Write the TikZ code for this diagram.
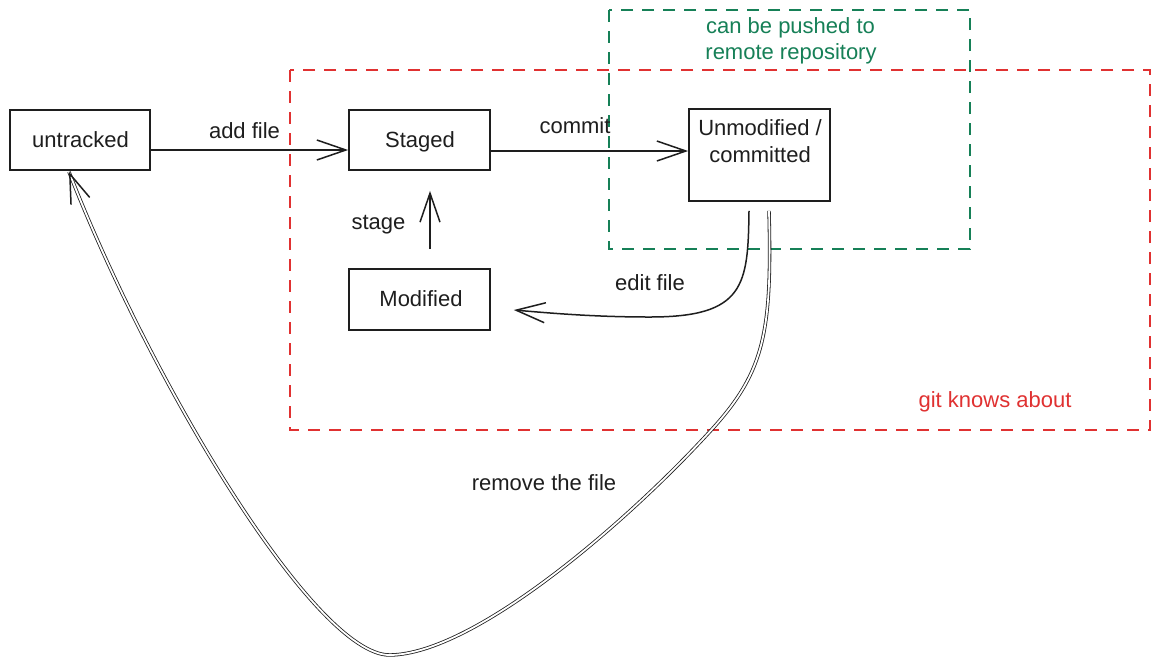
\documentclass[tikz,border=0pt]{standalone}
\usepackage{fontspec}
\setmainfont{Liberation Sans}
\usetikzlibrary{arrows.meta,calc}
\definecolor{ink}{HTML}{1E1E1E}
\definecolor{xred}{HTML}{E03131}
\definecolor{xgreen}{HTML}{168057}
\begin{document}
\begin{tikzpicture}[x=0.5pt,y=-0.5pt,
  box/.style={draw=ink, line width=0.85pt, inner sep=0pt},
  txt/.style={text=ink, font=\fontsize{11}{13.5}\selectfont, inner sep=0pt, anchor=base},
  arr/.style={draw=ink, line width=0.75pt, -{Straight Barb[length=14.5pt,width=10pt]}},
  dbl/.style={draw=ink, double=white, double distance=0.9pt, line width=0.4pt},
  zone/.style={line width=0.7pt, dash pattern=on 6pt off 4.5pt}]
\useasboundingbox (0,0) rectangle (1160,665);
\fill[white] (0,0) rectangle (1160,665);

% zones
\draw[zone, draw=xred] (290,70) rectangle (1150,430);
\draw[zone, draw=xgreen] (609,10) rectangle (970,249);
\node[txt, text=xred] (tGit) at (995,407) {git knows about};
\node[txt, text=xgreen] (tPush1) at (790.5,33) {can be pushed to};
\node[txt, text=xgreen] (tPush2) at (791,59) {remote repository};

% boxes
\node[box, minimum width=70pt, minimum height=30pt] (untracked) at (80,140) {};
\node[box, minimum width=70.5pt, minimum height=30pt] (staged) at (419.5,140) {};
\node[box, minimum width=70.5pt, minimum height=30.5pt] (modified) at (419.5,299.5) {};
\node[box, minimum width=70.5pt, minimum height=46pt] (unmod) at (759.5,155) {};

\node[txt] (tUntr) at (80.5,147.5) {untracked};
\node[txt] (tStaged) at (420,147.5) {Staged};
\node[txt] (tMod) at (421,306) {Modified};
\node[txt] (tUnmod1) at (760,135) {Unmodified /};
\node[txt] (tUnmod2) at (760,162) {committed};

% connectors
\draw[arr] ([yshift=-5pt]untracked.east) -- ([yshift=-5pt]staged.west);
\node[txt] (tAdd) at (244.5,138) {add file};

\draw[arr] ([yshift=-5.5pt]staged.east) -- ([yshift=2pt]unmod.west);
\node[txt] (tCommit) at (575,133.5) {commit};

\coordinate (stS) at ([shift={(5.25pt,9.5pt)}]modified.north);
\coordinate (stE) at ([shift={(5.25pt,-10pt)}]staged.south);
\draw[arr] (stS) -- (stE);
\node[txt] (tStage) at (378.5,229) {stage};

\coordinate (efS) at ([shift={(-5.25pt,-4.5pt)}]unmod.south);
\coordinate (efE) at ([shift={(11.5pt,-5.25pt)}]modified.east);
\draw[arr] (efS) .. controls (748,285) and (745,317) .. (650,317)
  .. controls (600,317) and (560,314) .. (efE);
\node[txt] (tEdit) at (650,290) {edit file};

\coordinate (rmS) at ([shift={(4.75pt,-4.5pt)}]unmod.south);
\coordinate (rmE) at ([shift={(-5.5pt,-0.5pt)}]untracked.south);
\draw[dbl] (rmS) .. controls (772,330) and (765,370) .. (714,427)
  .. controls (630,520) and (475,654) .. (390,655)
  .. controls (315,656) and (150,380) .. (rmE);
\draw[arr] ($(rmE)!2pt!(150,380)$) -- (rmE);
\node[txt] (tRemove) at (544,490) {remove the file};
\end{tikzpicture}
\end{document}
